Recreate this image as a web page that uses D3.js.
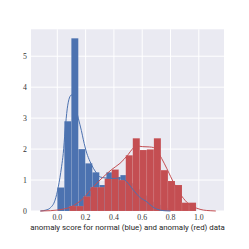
<!DOCTYPE html>
<html>
<head>
<meta charset="utf-8">
<script src="https://cdn.jsdelivr.net/npm/d3@7"></script>
<style>
  body { margin: 0; background: #fff; }
  svg { display: block; }
</style>
</head>
<body>
<svg id="chart" width="249" height="249"></svg>
<script>
// histogram bins (density), normal = blue, anomaly = red
const blueStart = 0.0, blueWidth = 0.0495;
const blueHeights = [0.76, 2.9, 5.58, 2.0, 1.54, 1.25, 0.84, 1.25, 1.1, 1.16, 0.9, 0.7, 0.5, 0.3, 0.2, 0.1];
const redStart = 0.086, redWidth = 0.0497;
const redHeights = [0.16, 0.16, 0.47, 0.77, 0.77, 1.05, 1.34, 1.0, 1.8, 2.35, 1.97, 1.99, 2.35, 1.32, 0.97, 0.84, 0.27, 0.27];

// kde curves
const blueKdeX = [-0.12, -0.08, -0.05, -0.016, 0.007, 0.03, 0.042, 0.055, 0.07, 0.085, 0.1, 0.115, 0.13, 0.148, 0.17, 0.184, 0.208, 0.231, 0.255, 0.278, 0.302, 0.337, 0.396, 0.443, 0.49, 0.537, 0.584, 0.632, 0.678, 0.725, 0.77, 0.8];
const blueKdeY = [0.0, 0.03, 0.1, 0.35, 0.78, 1.43, 1.86, 2.6, 3.3, 3.65, 3.75, 3.6, 3.35, 3.0, 2.6, 2.3, 1.87, 1.6, 1.38, 1.22, 1.1, 1.07, 1.05, 1.07, 0.95, 0.68, 0.44, 0.3, 0.12, 0.03, 0.005, 0.0];
const redKdeX = [-0.12, -0.05, 0.0, 0.05, 0.09, 0.14, 0.184, 0.22, 0.254, 0.29, 0.325, 0.384, 0.443, 0.5, 0.53, 0.56, 0.6, 0.65, 0.68, 0.7, 0.737, 0.773, 0.8, 0.844, 0.891, 0.938, 0.985, 1.032, 1.08, 1.12];
const redKdeY = [0.0, 0.01, 0.03, 0.07, 0.12, 0.25, 0.41, 0.6, 0.78, 0.95, 1.1, 1.34, 1.54, 1.82, 2.0, 2.1, 2.08, 2.07, 2.05, 1.97, 1.7, 1.38, 1.12, 0.73, 0.41, 0.19, 0.09, 0.03, 0.01, 0.0];

const xTicks = [0.0, 0.2, 0.4, 0.6, 0.8, 1.0];
const yTicks = [0, 1, 2, 3, 4, 5];
const xLabel = "anomaly score for normal (blue) and anomaly (red) data";

const blue = "#4c72b0", red = "#c44e52";

const svg = d3.select("#chart");
const margin = { left: 31, right: 25, top: 29.3, bottom: 38 };
const width = 249, height = 249;

const x = d3.scaleLinear().domain([-0.186, 1.178]).range([margin.left, width - margin.right]);
const y = d3.scaleLinear().domain([0, 5.87]).range([height - margin.bottom, margin.top]);

svg.append("rect")
   .attr("x", x.range()[0])
   .attr("y", y.range()[1])
   .attr("width", x.range()[1] - x.range()[0])
   .attr("height", y.range()[0] - y.range()[1])
   .attr("fill", "#eaeaf2");

// grid
const grid = svg.append("g").attr("stroke", "#fff").attr("stroke-width", 1);
grid.selectAll(".gx").data(xTicks).enter().append("line")
    .attr("x1", d => x(d)).attr("x2", d => x(d))
    .attr("y1", y.range()[0]).attr("y2", y.range()[1]);
grid.selectAll(".gy").data(yTicks).enter().append("line")
    .attr("y1", d => y(d)).attr("y2", d => y(d))
    .attr("x1", x.range()[0]).attr("x2", x.range()[1]);

function bars(start, w, heights, color) {
  svg.append("g").selectAll("rect")
     .data(heights)
     .enter()
     .append("rect")
     .attr("x", (d, i) => x(start + i * w))
     .attr("width", (d, i) => x(start + (i + 1) * w) - x(start + i * w))
     .attr("y", d => y(d))
     .attr("height", d => y(0) - y(d))
     .attr("fill", color)
     .attr("stroke", "#fff")
     .attr("stroke-opacity", 0.15)
     .attr("stroke-width", 0.5);
}
bars(blueStart, blueWidth, blueHeights, blue);
bars(redStart, redWidth, redHeights, red);

function kde(xs, ys, color) {
  const line = d3.line()
                 .x(d => x(d[0]))
                 .y(d => y(d[1]))
                 .curve(d3.curveMonotoneX);
  svg.append("path")
     .datum(xs.map((v, i) => [v, ys[i]]))
     .attr("d", line)
     .attr("fill", "none")
     .attr("stroke", color)
     .attr("stroke-width", 1);
}
kde(blueKdeX, blueKdeY, blue);
kde(redKdeX, redKdeY, red);

// tick labels
svg.append("g").selectAll("text")
   .data(xTicks).enter().append("text")
   .attr("x", d => x(d))
   .attr("y", 220)
   .attr("text-anchor", "middle")
   .attr("font-family", "Liberation Serif, serif")
   .attr("font-size", 7.8)
   .attr("fill", "#333")
   .text(d => d.toFixed(1));
svg.append("g").selectAll("text")
   .data(yTicks).enter().append("text")
   .attr("x", 27)
   .attr("y", d => y(d) + 2.7)
   .attr("text-anchor", "end")
   .attr("font-family", "Liberation Serif, serif")
   .attr("font-size", 7.8)
   .attr("fill", "#333")
   .text(d => d);

// axis label, sized so it spans the same width as in the picture
const label = svg.append("text")
   .attr("x", (x.range()[0] + x.range()[1]) / 2)
   .attr("y", 230)
   .attr("text-anchor", "middle")
   .attr("font-family", "Roboto, sans-serif")
   .attr("font-size", 8)
   .attr("fill", "#262626")
   .text(xLabel);
const natural = label.node().getComputedTextLength();
label.attr("font-size", 8 * 195 / natural);
</script>
</body>
</html>
